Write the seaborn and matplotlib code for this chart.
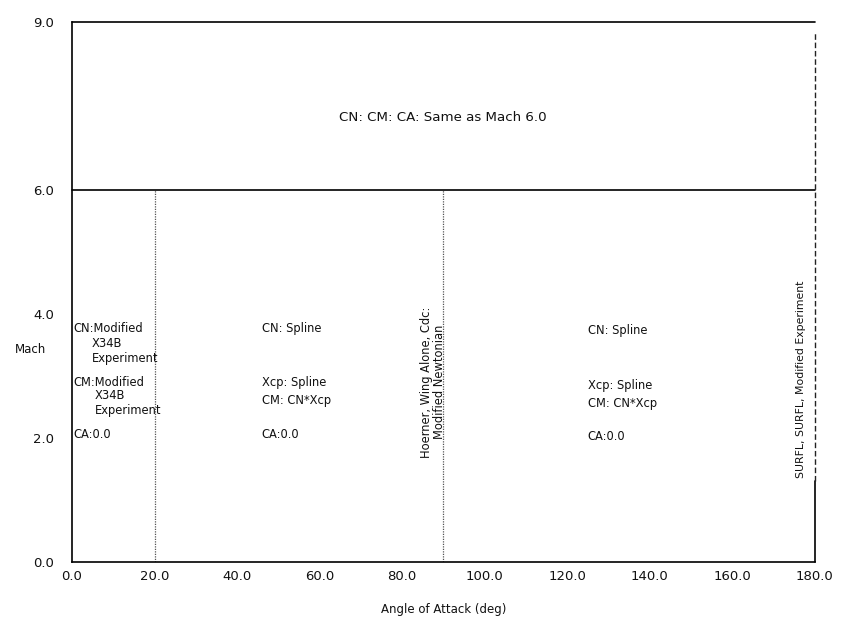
import numpy as np
import pandas as pd
import matplotlib
matplotlib.use("Agg")
import matplotlib.pyplot as plt
import seaborn as sns

# Region boundaries of the aerodynamic database (angle of attack, Mach)
mach_top = 9.0
mach_split = 6.0
alpha_min, alpha_max = 0.0, 180.0
alpha_breaks = [20.0, 90.0]

x_ticks = [0, 20, 40, 60, 80, 100, 120, 140, 160, 180]
x_tick_labels = ["0.0", "20.0", "40.0", "60.0", "80.0", "100.0", "120.0", "140.0", "160.0", "180.0"]
y_ticks = [0, 2, 4, 6, 9]
y_tick_labels = ["0.0", "2.0", "4.0", "6.0", "9.0"]

# Region annotations: (alpha, mach, text)
left_notes = [
    (0.3, 3.76, "CN:Modified"),
    (4.8, 3.52, "X34B"),
    (4.8, 3.29, "Experiment"),
    (0.3, 2.89, "CM:Modified"),
    (5.6, 2.68, "X34B"),
    (5.6, 2.45, "Experiment"),
    (0.3, 2.05, "CA:0.0"),
]
mid_notes = [
    (46.0, 3.76, "CN: Spline"),
    (46.0, 2.89, "Xcp: Spline"),
    (46.0, 2.60, "CM: CN*Xcp"),
    (46.0, 2.05, "CA:0.0"),
]
right_notes = [
    (125.0, 3.73, "CN: Spline"),
    (125.0, 2.85, "Xcp: Spline"),
    (125.0, 2.56, "CM: CN*Xcp"),
    (125.0, 2.02, "CA:0.0"),
]
upper_note = (90.0, 7.29, "CN: CM: CA: Same as Mach 6.0")
newtonian_note = (87.6, 2.9, "Hoerner, Wing Alone, Cdc:\nModified Newtonian")
surfl_note = (176.7, 2.95, "SURFL, SURFL, Modified Experiment")

# Boundary segments
solid_segments = pd.DataFrame({
    "seg": ["top", "top", "mid", "mid", "edge", "edge"],
    "alpha": [alpha_min, alpha_max, alpha_min, alpha_max, alpha_max, alpha_max],
    "mach": [mach_top, mach_top, mach_split, mach_split, 0.0, 1.3],
})
dotted_segments = pd.DataFrame({
    "seg": ["b20", "b20", "b90", "b90"],
    "alpha": [alpha_breaks[0], alpha_breaks[0], alpha_breaks[1], alpha_breaks[1]],
    "mach": [0.0, mach_split, 0.0, mach_split],
})
dashed_edge = pd.DataFrame({
    "seg": ["edge2", "edge2"],
    "alpha": [alpha_max, alpha_max],
    "mach": [1.3, 8.8],
})

sns.set_theme(style="white")
plt.rcParams["font.family"] = ["DejaVu Sans"]

fig = plt.figure(figsize=(8.41, 6.28), dpi=100)
ax = fig.add_axes([0.0856, 0.105, 0.883, 0.86])

# Upper band (Mach 6-9) is drawn slightly compressed
k = 0.903
def fwd(y):
    y = np.asarray(y, dtype=float)
    return np.where(y <= mach_split, y, mach_split + (y - mach_split) * k)
def inv(y):
    y = np.asarray(y, dtype=float)
    return np.where(y <= mach_split, y, mach_split + (y - mach_split) / k)
ax.set_yscale("function", functions=(fwd, inv))

for seg, d in solid_segments.groupby("seg"):
    sns.lineplot(data=d, x="alpha", y="mach", ax=ax, color="black",
                 linewidth=1.2, sort=False, estimator=None, clip_on=False)
for seg, d in dotted_segments.groupby("seg"):
    sns.lineplot(data=d, x="alpha", y="mach", ax=ax, color="#555555",
                 linewidth=0.9, linestyle=(0, (1, 1)), sort=False, estimator=None)
sns.lineplot(data=dashed_edge, x="alpha", y="mach", ax=ax, color="#222222",
             linewidth=1.0, linestyle=(0, (4, 2)), sort=False, estimator=None,
             clip_on=False)

txt_kw = dict(fontsize=8.3, color="#111111")
for x, y, s in left_notes + mid_notes + right_notes:
    ax.text(x, y, s, ha="left", va="center", **txt_kw)
ax.text(upper_note[0], upper_note[1], upper_note[2], ha="center", va="center",
        fontsize=9.6, color="#111111")
ax.text(newtonian_note[0], newtonian_note[1], newtonian_note[2], rotation=90,
        ha="center", va="center", multialignment="center", linespacing=1.0, **txt_kw)
ax.text(surfl_note[0], surfl_note[1], surfl_note[2], rotation=90,
        ha="center", va="center", fontsize=7.8, color="#111111")

ax.set_xlim(alpha_min, alpha_max)
ax.set_ylim(0, mach_top)
ax.set_xticks(x_ticks)
ax.set_xticklabels(x_tick_labels)
ax.set_yticks(y_ticks)
ax.set_yticklabels(y_tick_labels)
ax.tick_params(axis="both", length=0, labelsize=9.5, colors="#111111")
ax.tick_params(axis="x", pad=6)
ax.tick_params(axis="y", pad=13)

ax.set_xlabel("Angle of Attack (deg)", fontsize=8.5, color="#111111", labelpad=14)
ax.set_ylabel("Mach", fontsize=8.5, color="#111111", rotation=0, va="center")
ax.yaxis.set_label_coords(-0.056, 0.393)

for side in ["top", "right"]:
    ax.spines[side].set_visible(False)
for side in ["left", "bottom"]:
    ax.spines[side].set_color("black")
    ax.spines[side].set_linewidth(1.2)

fig.savefig("out.png", dpi=100, facecolor="white")
